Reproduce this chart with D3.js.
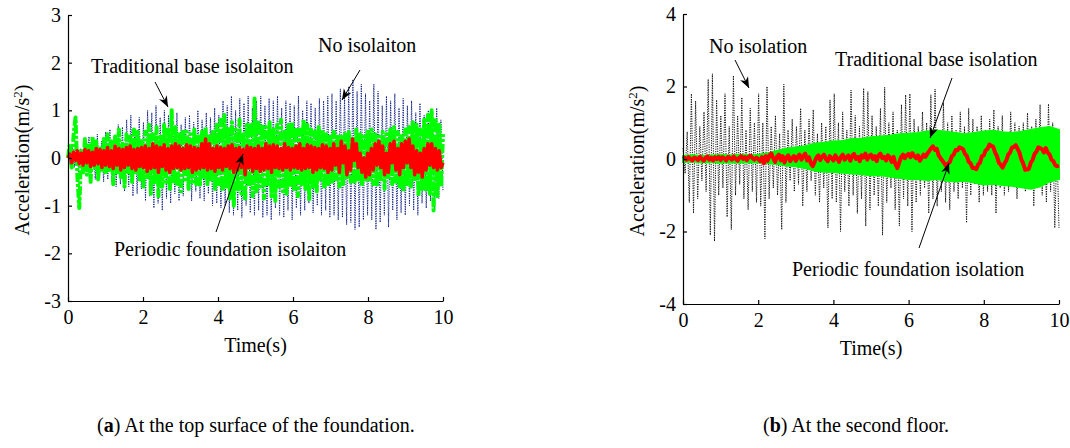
<!DOCTYPE html>
<html>
<head>
<meta charset="utf-8">
<script src="https://cdn.jsdelivr.net/npm/d3@7"></script>
<style>
  body { margin: 0; background: #fff; }
  svg { display: block; font-family: "Times New Roman", "Liberation Serif", serif; }
</style>
</head>
<body>
<svg id="chart" width="1070" height="448"></svg>
<script>
// ---- panel (a): top surface of the foundation ----
// no isolation, alternating peak / trough (m/s^2)
const noIsoA = [
  0.1,-0.15, 0.25,-0.2, 0.3,-0.3, 0.2,-0.25, 0.4,-0.35, 0.45,-0.3, 0.3,-0.45, 0.5,-0.4, 0.35,-0.5,
  0.55,-0.45, 0.6,-0.5, 0.45,-0.6, 0.7,-0.55, 0.65,-0.7, 0.8,-0.6, 0.9,-0.8, 0.6,-0.75, 0.85,-0.65,
  0.75,-0.9, 1.0,-0.8, 0.95,-1.05, 1.1,-0.95, 0.85,-1.1, 1.0,-0.85, 0.9,-0.95, 0.8,-0.75, 0.95,-0.9,
  0.7,-0.8, 0.85,-0.65, 0.9,-0.9, 0.75,-0.7, 1.0,-0.85, 0.8,-0.9, 0.95,-0.75, 0.85,-1.0, 1.05,-0.95,
  0.9,-1.05, 1.2,-1.0, 1.1,-1.15, 1.3,-1.2, 1.0,-1.1, 1.25,-1.25, 1.15,-1.0, 1.3,-1.15, 1.05,-1.2,
  1.2,-1.1, 1.3,-1.25, 1.1,-1.2, 1.25,-1.3, 1.2,-1.05, 1.3,-1.2, 1.05,-1.25, 1.2,-1.1, 1.15,-1.3,
  1.1,-1.05, 1.3,-1.2, 1.0,-1.1, 1.2,-0.95, 1.15,-1.15, 1.05,-1.0, 1.25,-1.2, 1.2,-1.1, 1.3,-1.25,
  1.35,-1.2, 1.2,-1.3, 1.45,-1.25, 1.3,-1.4, 1.5,-1.35, 1.65,-1.5, 1.4,-1.45, 1.55,-1.3, 1.35,-1.2,
  1.2,-1.3, 1.55,-1.5, 1.4,-1.35, 1.1,-1.2, 1.3,-1.45, 1.2,-1.1, 1.35,-1.3, 1.05,-1.15, 1.25,-1.2,
  1.1,-1.0, 1.2,-1.1, 0.95,-1.2, 1.15,-0.95, 0.9,-1.05, 1.0,-0.9, 0.85,-1.1, 1.05,-0.85, 0.8,-0.7
];
// traditional base isolation
const baseIsoA = [
  0.0, 0.3, -0.2, 0.5, 0.85, -0.4, -1.05, 0.2, -0.3, 0.4, -0.35, 0.3, -0.5, 0.45, -0.2, 0.35, -0.45, 0.25, -0.3, 0.4,
  -0.35, 0.5, -0.25, 0.35, -0.55, 0.45, -0.3, 0.6, -0.4, 0.3, -0.6, 0.5, -0.35, 0.45, -0.5, 0.6, -0.3, 0.55, -0.45, 0.4,
  -0.6, 0.55, -0.4, 0.7, -0.75, 0.5, -0.55, 0.65, -0.8, 0.45, -0.6, 0.7, -0.5, 0.6, -0.7, 1.0, -0.55, 0.65, -0.6, 0.5,
  -0.7, 0.6, -0.45, 0.55, -0.65, 0.5, -0.5, 0.6, -0.55, 0.45, -0.6, 0.55, -0.4, 0.65, -0.55, 0.5, -0.45, 0.6, -0.65, 0.7,
  -0.55, 0.8, -0.7, 0.9, -0.6, 0.65, -0.85, 0.75, -1.0, 0.6, -0.7, 0.8, -0.75, 0.55, -0.9, 0.7, -0.6, 0.75, -0.8, 1.25,
  -0.7, 0.8, -0.6, 0.7, -0.85, 0.65, -0.55, 0.75, -0.8, 0.6, -0.9, 0.7, -0.6, 0.8, -0.7, 0.55, -0.75, 0.7, -0.6, 0.75,
  -0.7, 0.65, -0.8, 0.6, -0.55, 0.8, -0.65, 0.7, -0.9, 0.6, -0.6, 0.55, -0.7, 0.65, -0.5, 0.6, -0.65, 0.5, -0.55, 0.45,
  -0.5, 0.55, -0.45, 0.5, -0.6, 0.45, -0.55, 0.5, -0.4, 0.55, -0.5, 0.45, -0.55, 0.6, -0.45, 0.5, -0.6, 0.45, -0.5, 0.55,
  -0.45, 0.6, -0.55, 0.5, -0.6, 0.45, -0.5, 0.55, -0.65, 0.5, -0.45, 0.6, -0.55, 0.65, -0.5, 0.55, -0.6, 0.5, -0.7, 0.6,
  -0.55, 0.65, -0.6, 0.75, -0.5, 0.7, -0.8, 0.6, -0.65, 0.8, -0.7, 0.9, -0.75, 1.0, -1.1, 0.85, -0.8, 0.7, -0.6, 0.5
];
// periodic foundation isolation
const periodicA = [
  0.0, 0.08, -0.1, 0.12, -0.05, 0.15, -0.12, 0.1, -0.15, 0.18, -0.1, 0.15, -0.18, 0.12, -0.15, 0.2, -0.12, 0.18, -0.2, 0.15,
  -0.15, 0.22, -0.18, 0.15, -0.22, 0.25, -0.15, 0.2, -0.25, 0.18, -0.2, 0.22, -0.15, 0.25, -0.22, 0.18, -0.25, 0.2, -0.18, 0.22,
  -0.2, 0.25, -0.28, 0.2, -0.22, 0.3, -0.2, 0.25, -0.3, 0.22, -0.18, 0.28, -0.25, 0.2, -0.3, 0.25, -0.22, 0.3, -0.2, 0.25,
  -0.25, 0.2, -0.22, 0.28, -0.2, 0.25, -0.3, 0.22, -0.25, 0.2, -0.22, 0.3, -0.2, 0.4, -0.25, 0.3, -0.22, 0.2, -0.28, 0.25,
  -0.2, 0.22, -0.25, 0.2, -0.18, 0.25, -0.22, 0.28, -0.3, 0.2, -0.25, 0.22, -0.2, 0.18, -0.35, 0.25, -0.2, 0.22, -0.28, 0.2,
  -0.22, 0.25, -0.28, 0.2, -0.25, 0.3, -0.22, 0.25, -0.3, 0.28, -0.2, 0.25, -0.22, 0.2, -0.25, 0.3, -0.2, 0.22, -0.25, 0.2,
  -0.2, 0.25, -0.22, 0.3, -0.25, 0.2, -0.22, 0.28, -0.2, 0.25, -0.3, 0.22, -0.25, 0.2, -0.2, 0.28, -0.22, 0.25, -0.3, 0.2,
  -0.25, 0.3, -0.15, 0.2, -0.3, 0.35, -0.1, 0.25, -0.35, 0.15, -0.25, 0.4, -0.05, 0.3, -0.2, 0.1, -0.3, 0.0, -0.4, 0.1,
  -0.35, 0.2, -0.25, 0.3, -0.15, 0.35, -0.2, 0.25, -0.35, 0.1, -0.3, 0.3, -0.1, 0.35, -0.25, 0.2, -0.35, 0.3, -0.2, 0.35,
  -0.1, 0.4, -0.2, 0.25, -0.35, 0.15, -0.3, 0.1, -0.4, 0.2, -0.25, 0.3, -0.15, 0.3, -0.2, 0.2, -0.25, 0.15, -0.2, -0.1
];

// ---- panel (b): second floor ----
const noIsoB = [
  0.3,-0.4, 0.75,-1.2, 1.8,-1.5, 1.6,-1.1, 0.9,-0.6, 1.3,-0.9, 2.2,-2.1, 2.35,-2.27, 1.63,-1.0,
  1.2,-0.8, 1.8,-1.6, 0.9,-1.95, 2.3,-1.0, 1.2,-0.7, 1.7,-1.1, 0.8,-1.4, 1.4,-0.9, 1.0,-1.2,
  1.8,-1.3, 1.0,-2.2, 2.0,-1.1, 0.9,-0.8, 1.2,-1.0, 0.7,-1.95, 2.06,-1.2, 0.8,-0.6, 1.1,-0.9,
  0.9,-0.7, 1.4,-1.3, 0.8,-0.9, 1.1,-0.6, 1.36,-1.0, 0.7,-1.2, 1.0,-0.8, 0.9,-1.9, 1.63,-1.1,
  1.8,-1.2, 1.0,-2.0, 1.3,-0.9, 0.8,-1.3, 1.9,-1.0, 1.2,-1.5, 0.9,-1.1, 1.95,-1.85, 1.86,-1.4,
  1.2,-1.0, 0.9,-1.3, 1.4,-2.1, 1.98,-1.2, 1.0,-0.8, 1.3,-1.4, 0.8,-1.85, 1.5,-1.1, 1.77,-1.3,
  1.8,-2.0, 1.1,-1.2, 0.9,-1.0, 1.3,-0.8, 1.0,-1.5, 1.77,-1.1, 1.93,-1.3, 0.8,-0.9, 1.55,-1.2,
  1.0,-1.4, 1.2,-0.9, 0.8,-1.1, 1.3,-0.8, 0.9,-1.76, 1.4,-1.0, 1.1,-0.7, 0.9,-1.2, 1.2,-1.0,
  0.8,-0.9, 1.1,-1.0, 1.36,-1.5, 0.9,-0.8, 1.2,-1.0, 0.7,-0.9, 1.3,-0.7, 1.0,-1.1, 0.9,-0.8,
  1.0,-0.9, 1.27,-0.8, 0.9,-1.3, 1.1,-0.7, 1.5,-1.0, 0.8,-1.2, 1.52,-0.9, 1.0,-1.9, 0.4,-1.9
];
// traditional base isolation, band edges every 0.25 s
const baseIsoBUpper = [
  0.08, 0.1, 0.08, 0.1, 0.12, 0.1, 0.12, 0.11, 0.12, 0.15, 0.22, 0.28, 0.32, 0.35, 0.42, 0.45,
  0.48, 0.5, 0.55, 0.56, 0.6, 0.62, 0.64, 0.68, 0.7, 0.72, 0.76, 0.78, 0.75, 0.72, 0.68, 0.72,
  0.76, 0.78, 0.74, 0.72, 0.75, 0.8, 0.85, 0.88, 0.8
];
const baseIsoBLower = [
  -0.08, -0.07, -0.09, -0.08, -0.1, -0.09, -0.1, -0.09, -0.1, -0.12, -0.14, -0.18, -0.2, -0.25, -0.32, -0.35,
  -0.36, -0.38, -0.4, -0.42, -0.45, -0.45, -0.48, -0.52, -0.55, -0.55, -0.58, -0.55, -0.6, -0.62, -0.6, -0.65,
  -0.7, -0.68, -0.72, -0.74, -0.78, -0.82, -0.75, -0.62, -0.55
];
// periodic foundation isolation, every 0.05 s
const periodicB = [
  0.0, 0.03, -0.02, 0.05, 0.0, -0.04, 0.04, 0.02, -0.03, 0.06, 0.01, -0.05, 0.03, 0.07, -0.02, 0.04, -0.04, 0.05, 0.0, 0.06,
  -0.03, 0.05, 0.02, -0.04, 0.06, 0.03, -0.02, 0.07, 0.01, -0.05, 0.04, 0.08, 0.0, 0.05, -0.03, 0.06, 0.09, 0.02, -0.02, 0.04,
  0.0, -0.06, 0.05, -0.12, 0.08, -0.05, 0.1, 0.15, 0.02, -0.08, 0.06, 0.12, -0.04, 0.08, -0.1, 0.04, 0.1, -0.06, 0.02, 0.08,
  -0.05, 0.06, 0.12, -0.02, 0.08, 0.15, -0.04, 0.05, -0.12, -0.2, -0.08, 0.04, 0.1, -0.03, 0.06, 0.12, 0.0, -0.06, 0.08, 0.03,
  -0.04, 0.1, 0.02, -0.08, 0.06, 0.12, -0.02, 0.05, 0.1, -0.05, 0.08, 0.14, 0.0, 0.06, -0.06, 0.1, 0.04, 0.15, -0.02, 0.08,
  0.12, 0.0, 0.08, -0.06, 0.1, 0.15, 0.02, 0.06, -0.04, 0.1, 0.04, -0.08, 0.06, -0.15, -0.25, -0.1, 0.05, 0.12, 0.02, 0.1,
  0.14, 0.05, 0.16, 0.08, 0.02, 0.1, -0.05, 0.04, 0.12, 0.06, 0.15, 0.22, 0.3, 0.35, 0.25, 0.28, 0.1, 0.02, -0.05, -0.12,
  -0.2, -0.12, -0.08, 0.08, 0.12, 0.25, 0.24, 0.32, 0.3, 0.27, 0.14, 0.08, -0.08, -0.12, -0.25, -0.25, -0.28, -0.15, -0.1, 0.08,
  0.1, 0.24, 0.28, 0.4, 0.36, 0.34, 0.18, 0.08, -0.1, -0.16, -0.24, -0.12, -0.04, 0.12, 0.18, 0.32, 0.33, 0.38, 0.28, 0.17,
  -0.02, -0.13, -0.3, -0.29, -0.27, -0.1, -0.02, 0.14, 0.2, 0.32, 0.3, 0.27, 0.18, 0.3, 0.18, 0.12, -0.02, -0.06, -0.17, -0.2,
  -0.18
];

const font = '"Times New Roman", "Liberation Serif", serif';
const fontSize = 20;
const svg = d3.select('#chart');

svg.append('defs').append('marker')
    .attr('id', 'head')
    .attr('viewBox', '0 0 10 10')
    .attr('refX', 10).attr('refY', 5)
    .attr('markerWidth', 11).attr('markerHeight', 11)
    .attr('markerUnits', 'userSpaceOnUse')
    .attr('orient', 'auto')
    .append('path')
    .attr('d', 'M0,1 L10,5 L0,9 L3,5 Z')
    .attr('fill', '#000');

// time for sample i of a series spread evenly over 0..10 s
const timeOf = (arr, i) => i * 10 / (arr.length - 1);

function drawPanel(p) {
    const x = d3.scaleLinear().domain([0, 10]).range([p.left, p.right]);
    const y = d3.scaleLinear().domain(p.yDomain).range([p.bottom, p.top]);
    const g = svg.append('g');

    const line = arr => d3.line()
        .x((d, i) => x(timeOf(arr, i)))
        .y(d => y(d))(arr);

    // no isolation (dotted, drawn first)
    g.append('path')
        .attr('d', line(p.noIso))
        .attr('fill', 'none')
        .attr('stroke', p.noIsoColor)
        .attr('stroke-width', 1)
        .attr('stroke-dasharray', '1.2,1.2');

    // traditional base isolation
    if (p.baseIso) {
        g.append('path')
            .attr('d', line(p.baseIso))
            .attr('fill', 'none')
            .attr('stroke', '#00ff00')
            .attr('stroke-width', 4)
            .attr('stroke-linejoin', 'round')
            .attr('stroke-dasharray', '9,2,3,2');
    } else {
        const area = d3.area()
            .x((d, i) => x(i * 0.25))
            .y0((d, i) => y(p.baseLower[i]))
            .y1(d => y(d));
        g.append('path')
            .attr('d', area(p.baseUpper))
            .attr('fill', '#00ff00')
            .attr('stroke', '#00ff00')
            .attr('stroke-width', 2);
    }

    // periodic foundation isolation
    g.append('path')
        .attr('d', line(p.periodic))
        .attr('fill', 'none')
        .attr('stroke', '#ff0000')
        .attr('stroke-width', p.periodicWidth)
        .attr('stroke-linejoin', 'round');

    // axes
    const yAxis = d3.axisLeft(y).tickValues(p.yTicks).tickFormat(d => String(d))
        .tickSize(-4).tickSizeOuter(0).tickPadding(7);
    const xAxis = d3.axisBottom(x).tickValues([0, 2, 4, 6, 8, 10]).tickFormat(d => String(d))
        .tickSize(-4).tickSizeOuter(0).tickPadding(5);

    const ya = g.append('g').attr('transform', `translate(${p.left},0)`).call(yAxis);
    const xa = g.append('g').attr('transform', `translate(0,${p.bottom})`).call(xAxis);
    [ya, xa].forEach(a => {
        a.selectAll('text').attr('font-family', font).attr('font-size', fontSize).attr('fill', '#000');
        a.selectAll('line,path').attr('stroke', '#000').attr('stroke-width', 1.2);
    });
    xa.selectAll('text').attr('dy', '0.9em');

    g.append('text')
        .attr('x', (p.left + p.right) / 2).attr('y', p.bottom + 51)
        .attr('text-anchor', 'middle')
        .attr('font-family', font).attr('font-size', fontSize)
        .text('Time(s)');

    const yl = g.append('text')
        .attr('transform', `translate(${p.yLabelX},${(p.top + p.bottom) / 2 + 2}) rotate(-90)`)
        .attr('text-anchor', 'middle')
        .attr('font-family', font).attr('font-size', fontSize);
    yl.append('tspan').text('Acceleration(m/s');
    yl.append('tspan').attr('baseline-shift', 'super').attr('font-size', 13).text('2');
    yl.append('tspan').text(')');

    // annotations with arrows
    p.notes.forEach(n => {
        g.append('text')
            .attr('x', n.tx).attr('y', n.ty)
            .attr('font-family', font).attr('font-size', fontSize)
            .text(n.text);
        g.append('line')
            .attr('x1', n.from[0]).attr('y1', n.from[1])
            .attr('x2', n.to[0]).attr('y2', n.to[1])
            .attr('stroke', '#000').attr('stroke-width', 1)
            .attr('marker-end', 'url(#head)');
    });

    g.append('text')
        .attr('x', p.captionX).attr('y', 432)
        .attr('font-family', font).attr('font-size', 20)
        .call(t => {
            t.append('tspan').text('(');
            t.append('tspan').attr('font-weight', 'bold').text(p.captionTag);
            t.append('tspan').text(') ' + p.caption);
        });
}

drawPanel({
    left: 68, right: 443, top: 15, bottom: 301,
    yDomain: [-3, 3], yTicks: [-3, -2, -1, 0, 1, 2, 3], yLabelX: 29,
    noIso: noIsoA, noIsoColor: '#0d1f86',
    baseIso: baseIsoA,
    periodic: periodicA, periodicWidth: 3.5,
    notes: [
        { text: 'No isolaiton', tx: 318, ty: 52, from: [360, 70], to: [342, 100] },
        { text: 'Traditional base isolaiton', tx: 91, ty: 73, from: [155, 82], to: [168, 107] },
        { text: 'Periodic foundation isolaiton', tx: 114, ty: 256, from: [216, 232], to: [243, 154] }
    ],
    captionX: 97, captionTag: 'a', caption: 'At the top surface of the foundation.'
});

drawPanel({
    left: 683, right: 1059, top: 14, bottom: 304,
    yDomain: [-4, 4], yTicks: [-4, -2, 0, 2, 4], yLabelX: 644,
    noIso: noIsoB, noIsoColor: '#111',
    baseUpper: baseIsoBUpper, baseLower: baseIsoBLower,
    periodic: periodicB, periodicWidth: 4,
    notes: [
        { text: 'No isolation', tx: 709, ty: 53, from: [735, 60], to: [749, 88] },
        { text: 'Traditional base isolation', tx: 835, ty: 66, from: [952, 78], to: [930, 138] },
        { text: 'Periodic foundation isolation', tx: 792, ty: 276, from: [919, 248], to: [949, 163] }
    ],
    captionX: 763, captionTag: 'b', caption: 'At the second floor.'
});
</script>
</body>
</html>
